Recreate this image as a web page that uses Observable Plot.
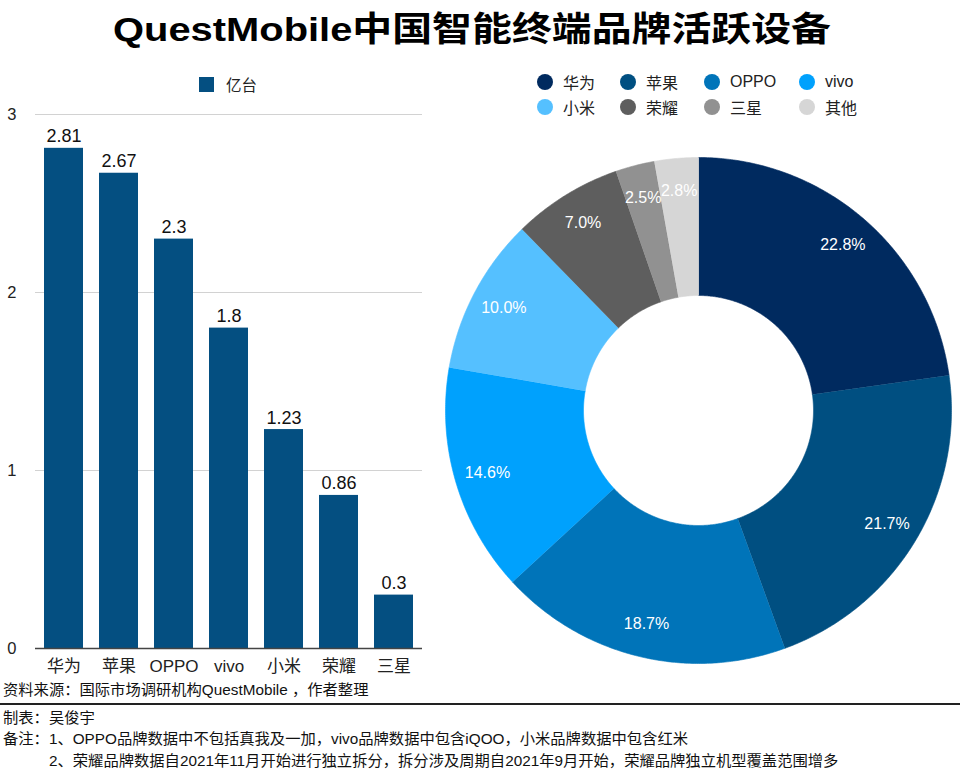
<!DOCTYPE html>
<html>
<head>
<meta charset="utf-8">
<script src="https://cdn.jsdelivr.net/npm/d3@7"></script>
<script src="https://cdn.jsdelivr.net/npm/@observablehq/plot@0.6"></script>
<style>
  html, body { margin: 0; padding: 0; background: #fff; }
  body { width: 960px; height: 772px; position: relative; overflow: hidden;
         font-family: "Liberation Sans", "Noto Sans CJK SC", sans-serif; color: #111; }
  .abs { position: absolute; white-space: nowrap; }
  #title { left: 113px; top: 8px; font-size: 34px; font-weight: bold; color: #000;
           transform-origin: 0 0; line-height: 42px; }
  .leg { position: absolute; display: flex; align-items: center; font-size: 16px; color: #222; }
  .dotsw { width: 16px; height: 16px; border-radius: 50%; margin-right: 10px; }
  .foot { position: absolute; left: 3px; font-size: 15.3px; color: #111; line-height: 18px; }
</style>
</head>
<body>
<div id="title" class="abs">QuestMobile中国智能终端品牌活跃设备</div>
<div id="barLegend" class="abs" style="left:199px; top:73px; display:flex; align-items:center; font-size:15.5px; color:#222;">
  <span id="barSw" style="display:inline-block;width:15px;height:15px;margin-right:12px;"></span><span id="barLegText"></span>
</div>
<div id="bars" class="abs" style="left:0; top:100px;"></div>
<div id="donut" class="abs" style="left:440px; top:152px;"></div>
<div id="pieLegend"></div>
<div class="foot" style="top:681px;">资料来源：国际市场调研机构QuestMobile ，作者整理</div>
<div class="abs" style="left:0; top:703px; width:960px; height:2px; background:#222;"></div>
<div class="foot" style="top:709px;">制表：吴俊宇</div>
<div class="foot" style="top:730px;">备注：1、OPPO品牌数据中不包括真我及一加，vivo品牌数据中包含iQOO，小米品牌数据中包含红米</div>
<div class="foot" style="top:752px; left:49px;">2、荣耀品牌数据自2021年11月开始进行独立拆分，拆分涉及周期自2021年9月开始，荣耀品牌独立机型覆盖范围增多</div>
<script>
// ---- data ----
const barBrands = ["华为", "苹果", "OPPO", "vivo", "小米", "荣耀", "三星"];
const barValues = [2.81, 2.67, 2.3, 1.8, 1.23, 0.86, 0.3];
const barSeriesName = "亿台";
const yTicks = [0, 1, 2, 3];

const shareBrands = ["华为", "苹果", "OPPO", "vivo", "小米", "荣耀", "三星", "其他"];
const shareValues = [22.8, 21.7, 18.7, 14.6, 10.0, 7.0, 2.5, 2.8];
const shareColors = ["#002a5f", "#004f81", "#0074b9", "#00a1fd", "#55c0ff", "#5e5e5e", "#919191", "#d6d6d6"];
const barColor = "#044f81";

const FONT = "\"Liberation Sans\", \"Noto Sans CJK SC\", sans-serif";

// ---- title fit ----
const title = document.getElementById("title");
const tw = title.getBoundingClientRect().width;
title.style.transform = `scaleX(${718 / tw})`;

// ---- bar legend ----
document.getElementById("barSw").style.background = barColor;
document.getElementById("barLegText").textContent = barSeriesName;

// ---- bar chart ----
const barData = barBrands.map((b, i) => ({brand: b, value: barValues[i]}));
const barPlot = Plot.plot({
  width: 440,
  height: 580,
  marginTop: 14,
  marginBottom: 32,
  marginLeft: 35,
  marginRight: 18,
  style: {fontFamily: FONT, fontSize: "15px", color: "#222", background: "transparent"},
  x: {domain: barBrands, paddingInner: 0.286, paddingOuter: 0.145, label: null},
  y: {domain: [0, 3], label: null},
  marks: [
    Plot.gridY(yTicks.filter(d => d > 0), {stroke: "#d2d2d2", strokeOpacity: 1, strokeWidth: 1}),
    Plot.barY(barData, {x: "brand", y: "value", fill: barColor}),
    Plot.ruleY([0], {stroke: "#444", strokeWidth: 1.5}),
    Plot.text(barData, {x: "brand", y: "value", text: d => String(d.value), lineAnchor: "bottom", dy: -6, fontSize: 18, fill: "#111"}),
    Plot.axisY({ticks: yTicks, tickSize: 0, tickPadding: 19, fontSize: 16.5, label: null, tickFormat: d => String(d)}),
    Plot.axisX({tickSize: 0, tickPadding: 11, fontSize: 17, label: null})
  ]
});
document.getElementById("bars").appendChild(barPlot);

// ---- donut ----
const R_OUT = 253, R_IN = 115, R_LAB = 220, HALF = 258;
const total = d3.sum(shareValues);
let cum = 0;
const slices = shareBrands.map((b, i) => {
  const a0 = cum / total * 2 * Math.PI;
  cum += shareValues[i];
  const a1 = cum / total * 2 * Math.PI;
  return {brand: b, value: shareValues[i], a0, a1};
});
const ringRows = [];
for (const s of slices) {
  const n = Math.max(4, Math.ceil((s.a1 - s.a0) / (Math.PI / 360)));
  for (let k = 0; k <= n; k++) {
    const a = s.a0 + (s.a1 - s.a0) * k / n;
    ringRows.push({brand: s.brand, x: R_OUT * Math.sin(a), y: R_OUT * Math.cos(a)});
  }
  for (let k = n; k >= 0; k--) {
    const a = s.a0 + (s.a1 - s.a0) * k / n;
    ringRows.push({brand: s.brand, x: R_IN * Math.sin(a), y: R_IN * Math.cos(a)});
  }
}
const labelRows = slices.map(s => {
  const m = (s.a0 + s.a1) / 2;
  return {brand: s.brand, text: s.value.toFixed(1) + "%", x: R_LAB * Math.sin(m), y: R_LAB * Math.cos(m)};
});
const donutPlot = Plot.plot({
  width: 2 * HALF,
  height: 2 * HALF,
  margin: 0,
  style: {fontFamily: FONT, background: "transparent"},
  x: {domain: [-HALF, HALF], axis: null},
  y: {domain: [-HALF, HALF], axis: null},
  color: {domain: shareBrands, range: shareColors},
  marks: [
    Plot.line(ringRows, {x: "x", y: "y", z: "brand", fill: "brand", stroke: "brand", strokeWidth: 0.6, curve: "linear"}),
    Plot.text(labelRows, {x: "x", y: "y", text: "text", fill: "white", fontSize: 16})
  ]
});
document.getElementById("donut").appendChild(donutPlot);

// ---- donut legend ----
const legX = [537, 620, 704, 799];
const legY = [73, 98];
const pl = document.getElementById("pieLegend");
shareBrands.forEach((b, i) => {
  const el = document.createElement("div");
  el.className = "leg";
  el.style.left = legX[i % 4] + "px";
  el.style.top = legY[Math.floor(i / 4)] + "px";
  el.style.height = "18px";
  const sw = document.createElement("span");
  sw.className = "dotsw";
  sw.style.background = shareColors[i];
  const tx = document.createElement("span");
  tx.textContent = b;
  el.appendChild(sw); el.appendChild(tx);
  pl.appendChild(el);
});
</script>
</body>
</html>
